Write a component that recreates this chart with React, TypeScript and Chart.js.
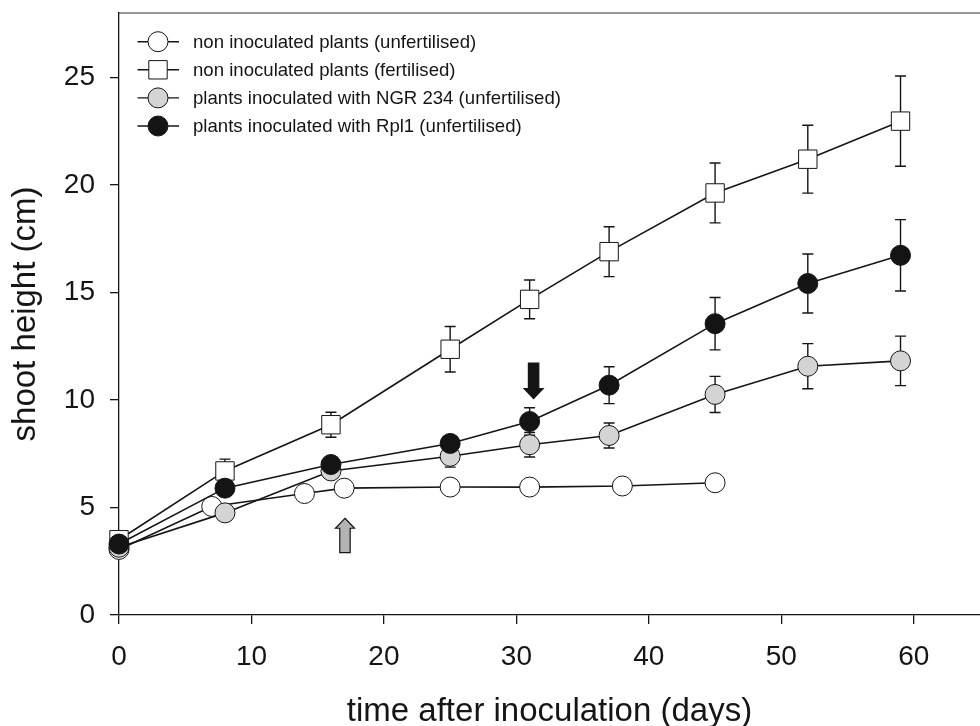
import React, { useEffect, useRef } from 'react';
import { Chart, registerables } from 'chart.js';

Chart.register(...registerables);

// ---- data ----
const DAYS_UNFERT = [0, 7, 14, 17, 25, 31, 38, 45];
const HEIGHT_UNFERT = [3.05, 5.05, 5.65, 5.9, 5.95, 5.95, 6.0, 6.15];
const ERR_UNFERT = [0.15, 0.2, 0.2, 0.2, 0.2, 0.2, 0.2, 0.2];

const DAYS_MAIN = [0, 8, 16, 25, 31, 37, 45, 52, 59];
const HEIGHT_FERT = [3.5, 6.7, 8.85, 12.36, 14.68, 16.9, 19.63, 21.2, 22.97];
const ERR_FERT = [0.15, 0.55, 0.58, 1.06, 0.9, 1.16, 1.39, 1.58, 2.1];
const HEIGHT_NGR = [3.15, 4.75, 6.7, 7.38, 7.92, 8.35, 10.26, 11.57, 11.82];
const ERR_NGR = [0.2, 0.3, 0.3, 0.5, 0.57, 0.58, 0.84, 1.05, 1.15];
const HEIGHT_RPL = [3.3, 5.9, 7.0, 7.98, 9.0, 10.69, 13.55, 15.42, 16.73];
const ERR_RPL = [0.2, 0.3, 0.3, 0.35, 0.64, 0.86, 1.22, 1.37, 1.66];

const LABELS = [
  'non inoculated plants (unfertilised)',
  'non inoculated plants (fertilised)',
  'plants inoculated with NGR 234 (unfertilised)',
  'plants inoculated with Rpl1 (unfertilised)',
];

const X_TICKS = [0, 10, 20, 30, 40, 50, 60];
const Y_TICKS = [0, 5, 10, 15, 20, 25];

// arrows (annotation): day, from value, to value (tip)
const ARROW_DAYS = [17.06, 31.3];
const ARROW_FROM = [2.9, 11.72];
const ARROW_TO = [4.5, 10.06];

// ---- styles ----
const FONT = '"Liberation Sans", Arial, Helvetica, sans-serif';
const INK = '#151515';
const FILLS = ['#ffffff', '#ffffff', '#d4d4d4', '#141414'];
const SHAPES = ['circle', 'rect', 'circle', 'circle'];
const ORDERS = [2, 3, 1, 0];
const ARROW_FILLS = ['#b3b3b3', '#141414'];

const SERIES = [
  { days: DAYS_UNFERT, values: HEIGHT_UNFERT, err: ERR_UNFERT },
  { days: DAYS_MAIN, values: HEIGHT_FERT, err: ERR_FERT },
  { days: DAYS_MAIN, values: HEIGHT_NGR, err: ERR_NGR },
  { days: DAYS_MAIN, values: HEIGHT_RPL, err: ERR_RPL },
];

const CIRCLE_R = 10;
const RECT_R = 13;

function drawMarker(ctx: CanvasRenderingContext2D, shape: string, fill: string, cx: number, cy: number) {
  ctx.beginPath();
  if (shape === 'rect') {
    const h = RECT_R * Math.SQRT1_2;
    ctx.rect(cx - h, cy - h, 2 * h, 2 * h);
  } else {
    ctx.arc(cx, cy, CIRCLE_R, 0, Math.PI * 2);
  }
  ctx.fillStyle = fill;
  ctx.fill();
  ctx.lineWidth = 1;
  ctx.strokeStyle = INK;
  ctx.stroke();
}

const zeroPad = (s: any) => {
  s.paddingLeft = 0;
  s.paddingRight = 0;
  s.paddingTop = 0;
  s.paddingBottom = 0;
};

const overlayPlugin = {
  id: 'overlay',
  beforeDatasetsDraw(chart: any) {
    const { ctx } = chart;
    const x = chart.scales.x;
    const y = chart.scales.y;
    ctx.save();
    ctx.strokeStyle = INK;
    ctx.lineWidth = 1.4;
    SERIES.forEach((s) => {
      s.days.forEach((d, i) => {
        const px = x.getPixelForValue(d);
        const top = y.getPixelForValue(s.values[i] + s.err[i]);
        const bot = y.getPixelForValue(s.values[i] - s.err[i]);
        ctx.beginPath();
        ctx.moveTo(px, top);
        ctx.lineTo(px, bot);
        ctx.moveTo(px - 5.5, top);
        ctx.lineTo(px + 5.5, top);
        ctx.moveTo(px - 5.5, bot);
        ctx.lineTo(px + 5.5, bot);
        ctx.stroke();
      });
    });
    ctx.restore();
  },
  afterDatasetsDraw(chart: any) {
    const { ctx, chartArea } = chart;
    const x = chart.scales.x;
    const y = chart.scales.y;
    ctx.save();
    // top frame line
    ctx.strokeStyle = '#333';
    ctx.lineWidth = 1.2;
    ctx.beginPath();
    ctx.moveTo(chartArea.left, chartArea.top);
    ctx.lineTo(chartArea.right, chartArea.top);
    ctx.stroke();

    // arrows
    ARROW_DAYS.forEach((d, i) => {
      const px = x.getPixelForValue(d);
      const tail = y.getPixelForValue(ARROW_FROM[i]);
      const tip = y.getPixelForValue(ARROW_TO[i]);
      const dir = tail > tip ? 1 : -1; // 1: pointing up
      const hw = 9.5;
      const sw = 5.2;
      const hl = 10;
      const hb = tip + dir * hl;
      ctx.beginPath();
      ctx.moveTo(px, tip);
      ctx.lineTo(px + hw, hb);
      ctx.lineTo(px + sw, hb);
      ctx.lineTo(px + sw, tail);
      ctx.lineTo(px - sw, tail);
      ctx.lineTo(px - sw, hb);
      ctx.lineTo(px - hw, hb);
      ctx.closePath();
      ctx.fillStyle = ARROW_FILLS[i];
      ctx.fill();
      ctx.lineWidth = 1.2;
      ctx.strokeStyle = INK;
      ctx.stroke();
    });

    // legend
    LABELS.forEach((label, i) => {
      const cy = 41.7 + i * 28.1;
      const cx = 158;
      ctx.strokeStyle = INK;
      ctx.lineWidth = 1.4;
      ctx.beginPath();
      ctx.moveTo(137.5, cy);
      ctx.lineTo(179, cy);
      ctx.stroke();
      drawMarker(ctx, SHAPES[i], FILLS[i], cx, cy);
      ctx.fillStyle = INK;
      ctx.font = `18.6px ${FONT}`;
      ctx.textAlign = 'left';
      ctx.textBaseline = 'middle';
      ctx.fillText(label, 193, cy + 1);
    });
    ctx.restore();
  },
};

export default function App() {
  const ref = useRef<HTMLCanvasElement>(null);

  useEffect(() => {
    document.body.style.margin = '0';
    if (!ref.current) return;
    Chart.defaults.font.family = FONT;
    const datasets = SERIES.map((s, i) => ({
      label: LABELS[i],
      data: s.days.map((d, j) => ({ x: d, y: s.values[j] })),
      borderColor: INK,
      borderWidth: 1.6,
      backgroundColor: FILLS[i],
      pointStyle: SHAPES[i],
      pointRadius: SHAPES[i] === 'rect' ? RECT_R : CIRCLE_R,
      pointBorderWidth: 1,
      pointBorderColor: INK,
      pointBackgroundColor: FILLS[i],
      pointHoverRadius: SHAPES[i] === 'rect' ? RECT_R : CIRCLE_R,
      tension: 0,
      fill: false,
      clip: false as any,
      order: ORDERS[i],
    }));

    const chart = new Chart(ref.current, {
      type: 'line',
      data: { datasets },
      options: {
        animation: false,
        responsive: false,
        devicePixelRatio: 1,
        layout: { autoPadding: false, padding: { top: 13, right: 0, left: 0, bottom: 0 } },
        plugins: { legend: { display: false }, tooltip: { enabled: false } },
        scales: {
          x: {
            type: 'linear',
            min: 0,
            max: 65,
            afterBuildTicks: (s: any) => {
              s.ticks = X_TICKS.map((v) => ({ value: v }));
            },
            afterFit: (s: any) => {
              s.height = 111;
              zeroPad(s);
            },
            border: { display: true, color: INK, width: 1.3 },
            grid: { drawOnChartArea: false, drawTicks: true, tickLength: 9, color: INK, lineWidth: 1.3 },
            ticks: { color: INK, font: { size: 28 }, padding: 16, maxRotation: 0, autoSkip: false },
            title: {
              display: true,
              text: 'time after inoculation (days)',
              color: INK,
              font: { size: 33, lineHeight: 0.85 },
              padding: { top: 0, bottom: 0 },
            },
          },
          y: {
            type: 'linear',
            min: 0,
            max: 28,
            afterBuildTicks: (s: any) => {
              s.ticks = Y_TICKS.map((v) => ({ value: v }));
            },
            afterFit: (s: any) => {
              s.width = 119;
              zeroPad(s);
            },
            border: { display: true, color: INK, width: 1.3 },
            grid: { drawOnChartArea: false, drawTicks: true, tickLength: 9, color: INK, lineWidth: 1.3 },
            ticks: { color: INK, font: { size: 28 }, padding: 15, autoSkip: false },
            title: {
              display: true,
              text: 'shoot height (cm)',
              color: INK,
              font: { size: 33, lineHeight: 1 },
              padding: { top: 9, bottom: 0 },
            },
          },
        },
      },
      plugins: [overlayPlugin],
    });
    return () => chart.destroy();
  }, []);

  return <canvas ref={ref} width={980} height={726} style={{ display: 'block' }} />;
}
